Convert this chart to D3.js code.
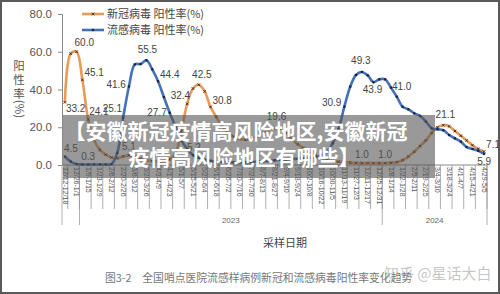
<!DOCTYPE html>
<html><head><meta charset="utf-8">
<script src="https://cdn.jsdelivr.net/npm/d3@7/dist/d3.min.js"></script>
<style>
html,body{margin:0;padding:0;background:#fff;}
svg{display:block;}
</style></head>
<body>
<svg id="c" width="500" height="294"></svg>
<script>
// ---- data ----
const tickLabels = ["12/12-12/18","12/26-1/1","1/9-1/15","1/23-1/29","2/6-2/12","2/20-2/26","3/6-3/12","3/20-3/26","4/3-4/9","4/17-4/23","5/1-5/7","5/15-5/21","5/29-6/4","6/12-6/18","6/26-7/2","7/10-7/16","7/24-7/30","8/7-8/13","8/21-8/27","9/4-9/10","9/18-9/24","10/2-10/8","10/16-10/22","10/30-11/5","11/13-11/19","11/27-12/3","12/11-12/17","12/25-12/31","1/8-1/14","1/22-1/28","2/5-2/11","2/19-2/25","3/4-3/10","3/18-3/24","4/1-4/7","4/15-4/21","4/29-5/5"];
const years = ["2023","2024"];
const yearStartWeek = [3, 55];   // week index where each year begins
const covid = [33.2,59.0,60.0,45.1,24.1,13.2,8.0,5.5,4.0,3.6,4.5,5.1,4.2,3.2,2.5,2.0,1.8,2.0,3.0,6.0,18.0,32.4,40.5,42.5,39.0,30.8,25.5,20.5,17.0,15.0,13.8,13.4,13.8,15.0,17.0,18.5,19.6,19.0,17.0,13.5,11.0,9.0,7.0,5.0,3.5,2.5,2.0,1.7,1.5,1.3,1.1,1.0,1.0,1.0,1.0,1.0,1.2,1.5,2.5,4.5,7.0,10.0,13.0,17.0,20.0,21.1,20.5,18.0,15.5,13.0,10.5,8.5,7.1];
const flu = [4.5,1.8,0.5,0.3,0.3,0.3,0.3,0.3,0.5,6.5,25.1,41.6,53.3,53.5,55.5,50.7,44.4,36.0,27.7,20.3,13.0,8.5,5.2,3.8,2.8,2.2,1.8,1.6,1.5,1.4,1.4,1.5,1.6,1.8,2.0,2.2,2.5,2.8,3.0,3.2,3.3,3.5,3.8,4.2,5.0,7.0,11.5,19.0,30.9,41.5,47.7,49.3,47.5,43.9,45.4,45.4,41.0,36.2,30.9,29.5,27.4,26.0,23.0,19.4,18.9,18.4,15.9,14.1,12.4,9.5,8.5,7.5,5.9];
const yTicks = [0,20,40,60,80];
const covidLabelIdx = [0,2,3,4,11,21,23,25,36,51,55,65,72];
const fluLabelIdx = [0,4,10,11,14,16,18,22,48,51,53,56,72];
const seriesNames = ["新冠病毒 阳性率(%)","流感病毒 阳性率(%)"];

// ---- layout / style ----
const svg = d3.select("#c");
const L = 62, R = 487, T = 14, B = 165;
const ORANGE = "#EA9A55", BLUE = "#4470B8";
const x = d3.scaleBand().domain(d3.range(covid.length)).range([L, R]);
const cx = i => x(i) + x.bandwidth() / 2;
const y = d3.scaleLinear().domain([0, 80]).range([B, T]);
const numFont = "'Liberation Sans Narrow','Liberation Sans',Arial,sans-serif";
const cjk = "'Noto Sans CJK SC','Noto Sans',sans-serif";

svg.append("rect").attr("x",1).attr("y",1).attr("width",498).attr("height",292)
  .attr("fill","#fff").attr("stroke","#5a5a5a").attr("stroke-width",2);

// y axis
const ya = svg.append("g").attr("transform",`translate(${L},0)`)
  .call(d3.axisLeft(y).tickValues(yTicks).tickFormat(d3.format(".1f")).tickSize(4).tickPadding(6));
ya.select(".domain").attr("stroke","#888");
ya.selectAll(".tick line").attr("stroke","#888");
ya.selectAll(".tick text").attr("fill","#555").style("font-family",numFont).style("font-size","11.5px");

// y title
const yt = svg.append("g").attr("fill","#555").style("font-family",cjk).style("font-size","11.5px");
["阳","性","率"].forEach((ch,k)=>yt.append("text").attr("x",19).attr("y",70+k*14).attr("text-anchor","middle").text(ch));
yt.append("text").attr("transform","translate(15,109) rotate(90)").attr("text-anchor","middle").text("(%)");

// x axis line
svg.append("line").attr("x1",L).attr("x2",R).attr("y1",B).attr("y2",B).attr("stroke","#888");

// category separators
const g = svg.append("g");
for (let k = 1; k <= covid.length; k += 2) {
  const xx = L + k * x.bandwidth();
  g.append("line").attr("x1",xx).attr("x2",xx).attr("y1",B).attr("y2",209).attr("stroke","#999").attr("stroke-width",0.8);
}
[0, ...yearStartWeek, covid.length].forEach(k=>{
  const xx = L + k * x.bandwidth();
  g.append("line").attr("x1",xx).attr("x2",xx).attr("y1",B).attr("y2",225).attr("stroke","#999").attr("stroke-width",0.8);
});
tickLabels.forEach((t,i)=>{
  g.append("text").attr("transform",`translate(${cx(i*2)-2.4},167) rotate(90)`)
    .attr("fill","#555").style("font-family",numFont).style("font-size","7px").text(t);
});
years.forEach((yr,i)=>{
  const a = yearStartWeek[i], b = i+1 < years.length ? yearStartWeek[i+1] : covid.length;
  g.append("text").attr("x", L + (a+b)/2*x.bandwidth()).attr("y",223).attr("text-anchor","middle")
    .attr("fill","#666").style("font-family",numFont).style("font-size","8px").text(yr);
});

// lines
const line = d3.line().x((d,i)=>cx(i)).y(d=>y(d)).curve(d3.curveCatmullRom.alpha(0.5));
svg.append("path").datum(covid).attr("d",line).attr("fill","none").attr("stroke",ORANGE).attr("stroke-width",2.6);
svg.append("path").datum(flu).attr("d",line).attr("fill","none").attr("stroke",BLUE).attr("stroke-width",2.6);

// markers
const xm = (px,py,s)=>`M${px-s},${py-s}L${px+s},${py+s}M${px-s},${py+s}L${px+s},${py-s}`;
svg.append("path").attr("d", covid.map((d,i)=>xm(cx(i),y(d),1.3)).join("")).attr("stroke","#3a2a1a").attr("stroke-width",0.9);
svg.append("g").selectAll("rect").data(flu).join("rect")
  .attr("x",(d,i)=>cx(i)-1.1).attr("y",d=>y(d)-1.1).attr("width",2.2).attr("height",2.2).attr("fill","#1a2233");

// data labels
const place = {
  c0:["start",1,10], c2:["start",-2,-6], c3:["start",2,-4], c4:["start",1,-5], c11:["middle",0,-5],
  c21:["end",3,-5], c23:["middle",3,-7], c25:["start",2,-3], c36:["middle",2,-8], c51:["middle",0,-5],
  c55:["middle",0,-5], c65:["middle",2,-7], c72:["start",2,-4],
  f0:["start",-1,-5], f4:["middle",0,-4], f10:["end",-1,-6], f11:["end",-3,2], f14:["middle",1,-7],
  f16:["start",2,-3], f18:["end",-3,3], f22:["middle",1,-4], f48:["end",-3,-1], f51:["middle",-1,-8],
  f53:["middle",-1,11], f56:["start",1,2], f72:["middle",0,11]
};
const lab = svg.append("g").attr("fill","#444").style("font-family",numFont).style("font-size","10px");
function addLabels(arr, idx, key){
  idx.forEach(i=>{
    const p = place[key+i];
    lab.append("text").attr("x",cx(i)+p[1]).attr("y",y(arr[i])+p[2]).attr("text-anchor",p[0]).text(arr[i].toFixed(1));
  });
}
addLabels(covid, covidLabelIdx, "c");
addLabels(flu, fluLabelIdx, "f");

// legend
const lg = svg.append("g");
[[ORANGE,14],[BLUE,30]].forEach(([col,yy],k)=>{
  lg.append("line").attr("x1",82).attr("x2",104).attr("y1",yy).attr("y2",yy).attr("stroke",col).attr("stroke-width",2.6);
  if(k===0) lg.append("path").attr("d",xm(93,yy,1.3)).attr("stroke","#3a2a1a").attr("stroke-width",0.9);
  else lg.append("rect").attr("x",91.9).attr("y",yy-1.1).attr("width",2.2).attr("height",2.2).attr("fill","#1a2233");
  lg.append("text").attr("x",107).attr("y",yy+4).attr("fill","#444").style("font-family",cjk).style("font-size","11px").text(seriesNames[k]);
});

// axis title & caption
svg.append("text").attr("x",285).attr("y",247).attr("text-anchor","middle").attr("fill","#444")
  .style("font-family",cjk).style("font-size","11px").text("采样日期");
svg.append("text").attr("x",105).attr("y",282).attr("fill","#777")
  .style("font-family",cjk).style("font-size","10.8px").text("图3-2　全国哨点医院流感样病例新冠和流感病毒阳性率变化趋势");
svg.append("text").attr("x",384).attr("y",279).attr("fill","rgba(160,160,160,0.6)")
  .style("font-family",cjk).style("font-size","15px").text("知乎 @星话大白");

// overlay banner
svg.append("rect").attr("x",63).attr("y",115).attr("width",372).attr("height",63).attr("fill","rgba(85,85,85,0.6)");
const bt = svg.append("g").attr("fill","#fff").attr("text-anchor","middle").style("font-family",cjk).style("font-size","21px").style("font-weight","700");
bt.append("text").attr("x",236).attr("y",139).text("【安徽新冠疫情高风险地区,安徽新冠");
bt.append("text").attr("x",244).attr("y",165).text("疫情高风险地区有哪些】");
</script>
</body></html>
